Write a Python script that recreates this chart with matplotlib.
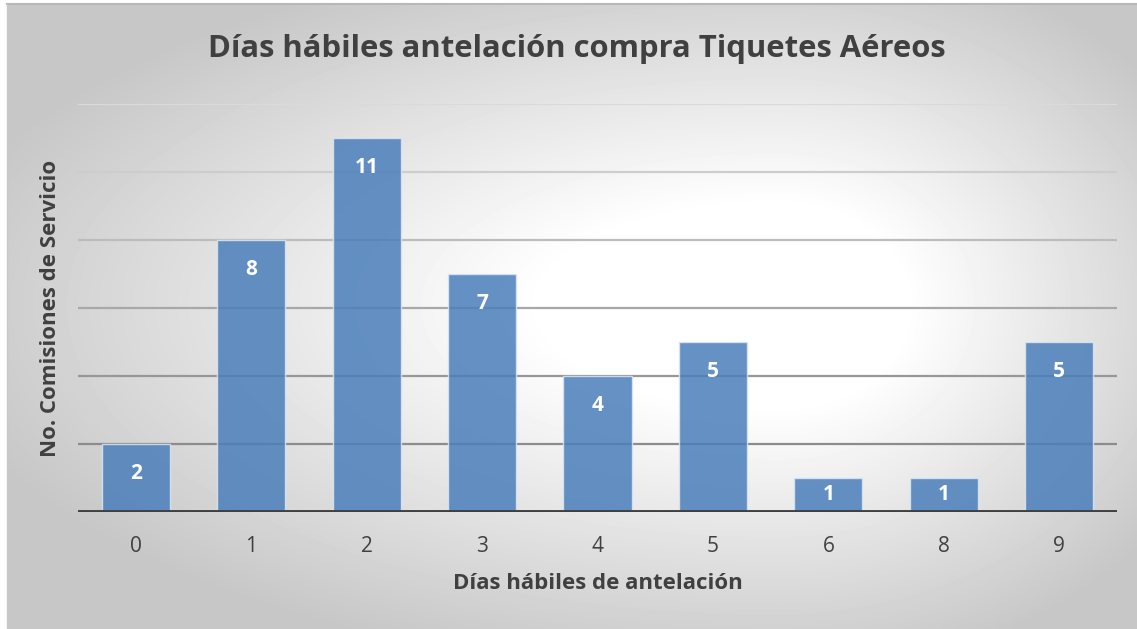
import numpy as np
import matplotlib.pyplot as plt

# data
dias = ['0', '1', '2', '3', '4', '5', '6', '8', '9']
comisiones = [2, 8, 11, 7, 4, 5, 1, 1, 5]

W, H = 1137, 629
fig = plt.figure(figsize=(W / 100, H / 100), dpi=100, facecolor='white')
plt.rcParams['font.family'] = ['Open Sans', 'DejaVu Sans']

# radial gradient background (white centre, grey edges)
bg = fig.add_axes([7 / W, 0, 1 - 7 / W, 1 - 4 / H], zorder=-2)
yy, xx = np.mgrid[0:H - 4, 0:W - 7]
cx, cy = 770, 300
dx = (xx - cx) / np.where(xx < cx, 780, 430)
dy = (yy - cy) / np.where(yy < cy, 330, 340)
r = np.sqrt(dx ** 2 + dy ** 2)
t = np.clip((r - 0.3) / 0.8, 0, 1)
shade = 1.0 - 0.22 * t
bg.imshow(shade, cmap='gray', vmin=0, vmax=1, aspect='auto', interpolation='bilinear')
bg.set_axis_off()
fig.add_artist(plt.Line2D([7 / W, 1], [1 - 4 / H, 1 - 4 / H], color='#b8b8b8', lw=1.5))
fig.add_artist(plt.Line2D([7 / W, 7 / W], [0, 1 - 4 / H], color='#c8c8c8', lw=1))

ax = fig.add_axes([78 / W, 1 - 512 / H, (1117 - 78) / W, (512 - 104) / H])
ax.set_facecolor('none')

# gridlines get darker toward the bottom, like the original
grid_cols = {2: '#8c8c8c', 4: '#979797', 6: '#a8a8a8', 8: '#bcbcbc', 10: '#cdcdcd', 12: '#dadada'}
for lvl, c in grid_cols.items():
    ax.axhline(lvl, color=c, lw=1.6, zorder=1)

x = np.arange(len(dias))
bars = ax.bar(x, comisiones, width=0.59, color='#4A7EBB', alpha=0.85,
              edgecolor='#dde6f2', linewidth=1.0, zorder=2)
for xi, v in zip(x, comisiones):
    off = -21 if v > 1 else -12
    ax.annotate(str(v), (xi, v), xytext=(0, off), textcoords='offset points',
                ha='center', va='center', color='white', fontsize=15, fontweight='bold', zorder=3)

ax.axhline(0, color='#404040', lw=2.8, zorder=4)
ax.set_xlim(-0.5, len(dias) - 0.5)
ax.set_ylim(0, 12)
ax.set_xticks(x)
ax.set_xticklabels(dias, fontsize=15, color='#404040')
ax.tick_params(axis='x', length=0, pad=17)
ax.set_yticks([])
for s in ax.spines.values():
    s.set_visible(False)

ax.set_xlabel('Días hábiles de antelación', fontsize=16, fontweight='bold', color='#404040', labelpad=12)
ax.set_ylabel('No. Comisiones de Servicio', fontsize=16, fontweight='bold', color='#404040', labelpad=12)
fig.text(577 / W, 1 - 49 / H, 'Días hábiles antelación compra Tiquetes Aéreos',
         ha='center', va='center', fontsize=22.3, fontweight='bold', color='#404040')

fig.savefig('out.png', dpi=100)
